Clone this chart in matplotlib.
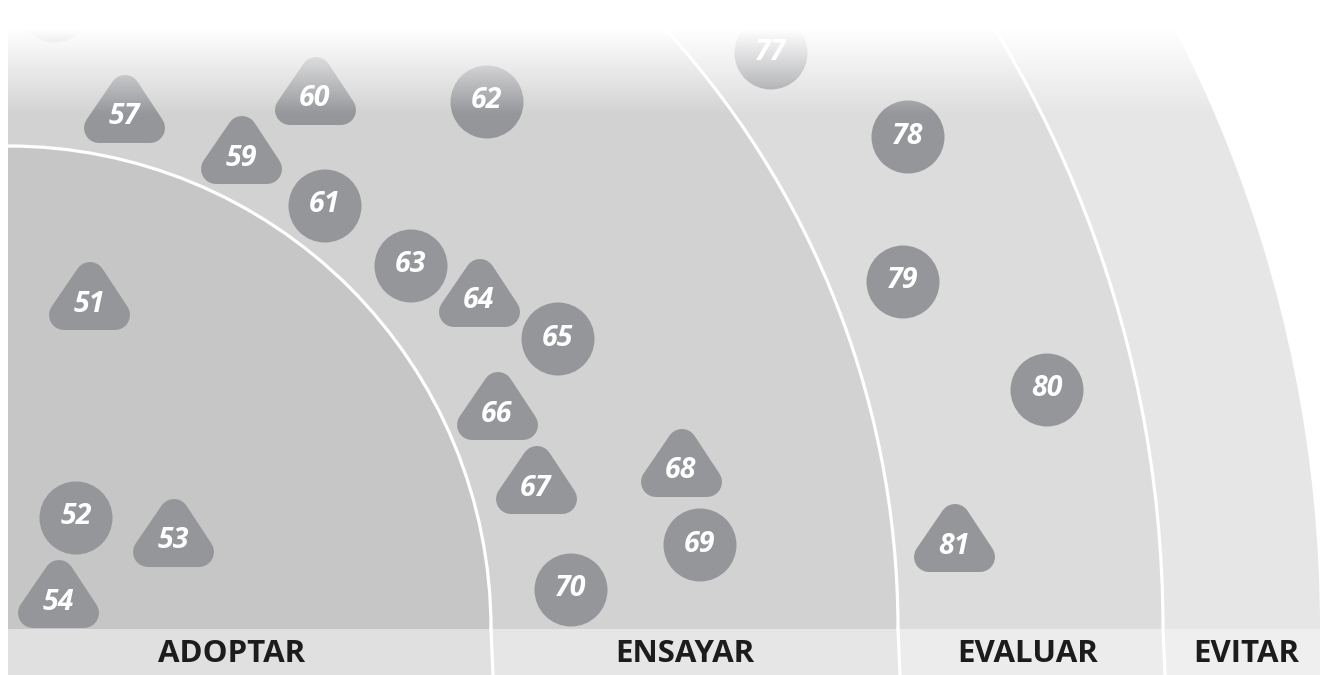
import numpy as np
import matplotlib.pyplot as plt
from matplotlib.patches import Wedge, Arc, Circle, Polygon, Rectangle

# rings of the radar quadrant (outer radius in px, from the bottom-left centre)
ring_names = ['ADOPTAR', 'ENSAYAR', 'EVALUAR', 'EVITAR']
ring_radius = [483, 890, 1155, 1312]

# blips: number, shape ('t' new / 'c' unchanged), position (px)
blip_ids = ['51', '52', '53', '54', '', '57', '59', '60', '61', '62', '63',
            '64', '65', '66', '67', '68', '69', '70', '77', '78', '79', '80', '81']
blip_shape = ['t', 'c', 't', 't', 'c', 't', 't', 't', 'c', 'c', 'c',
              't', 'c', 't', 't', 't', 'c', 'c', 'c', 'c', 'c', 'c', 't']
blip_x = [89, 76, 173, 58, 55, 124, 241, 315, 325, 487, 411,
          479, 558, 497, 536, 681, 700, 571, 771, 908, 903, 1047, 954]
blip_y = [304, 517, 541, 602, 5, 117, 158, 99, 205, 101, 265,
          301, 338, 414, 488, 471, 544, 589, 52, 136, 281, 389, 546]

W, H = 1322, 675
cx, cy = 8, 629
ring_colors = ['#c6c6c6', '#d2d2d2', '#dddcdd', '#e6e6e6']
band_colors = ['#e0e0e0', '#e6e6e6', '#ececec', '#efefef']
blip_color = '#95969a'

fig = plt.figure(figsize=(W / 100, H / 100), dpi=100)
ax = fig.add_axes([0, 0, 1, 1])
ax.set_xlim(0, W)
ax.set_ylim(H, 0)
ax.axis('off')

# ring fills, largest first
for r, col in reversed(list(zip(ring_radius, ring_colors))):
    ax.add_patch(Wedge((cx, cy), r, 270, 360, facecolor=col, edgecolor='none', zorder=1))
for r in ring_radius[:-1]:
    ax.add_patch(Arc((cx, cy), 2 * r, 2 * r, theta1=270, theta2=360,
                     color='white', lw=2.3, zorder=2))

# bottom band with ring names
edges = [cx] + [cx + r for r in ring_radius]
label_shift = [-18, -10, -3, 5]
for i, name in enumerate(ring_names):
    x0, x1 = edges[i], edges[i + 1]
    ax.add_patch(Rectangle((x0, cy), x1 - x0, H - cy, facecolor=band_colors[i],
                           edgecolor='none', zorder=3))
    ax.text((x0 + x1) / 2 + label_shift[i], 654, name, ha='center', va='center',
            fontsize=22.5, fontweight='bold', family=['Open Sans', 'DejaVu Sans'],
            color='#1c1c1c', zorder=4)
for e in edges[1:-1]:
    ax.plot([e, e + 2], [cy, H], color='white', lw=2.3, zorder=4)

# blips
rr = 15
for bid, shp, x, y in zip(blip_ids, blip_shape, blip_x, blip_y):
    if shp == 't':
        pts = [(x - 25, y + 11), (x + 26, y + 11), (x + 1, y - 27)]
        ax.add_patch(Polygon(pts, closed=True, facecolor=blip_color, edgecolor=blip_color,
                             lw=rr * 2 * 0.72, joinstyle='round', zorder=5))
    else:
        ax.add_patch(Circle((x, y + 1), 36.5, facecolor=blip_color, edgecolor='none', zorder=5))
    ax.text(x, y, bid, ha='center', va='center', fontsize=20.5, fontweight='bold',
            fontstyle='italic', family=['Open Sans', 'DejaVu Sans'], color='white', zorder=6)

# white fade over the top of the chart
n = 240
yy = np.linspace(0, 125, n)
alpha = np.clip((115 - yy) / 85, 0, 1)
grad = np.ones((n, 1, 4))
grad[:, 0, 3] = alpha
ax.imshow(grad, extent=[0, W, 125, 0], aspect='auto', zorder=10, interpolation='bilinear')
ax.add_patch(Rectangle((0, 0), cx, H, facecolor='white', edgecolor='none', zorder=11))
ax.set_xlim(0, W)
ax.set_ylim(H, 0)

fig.savefig('out.png', dpi=100, facecolor='white')
